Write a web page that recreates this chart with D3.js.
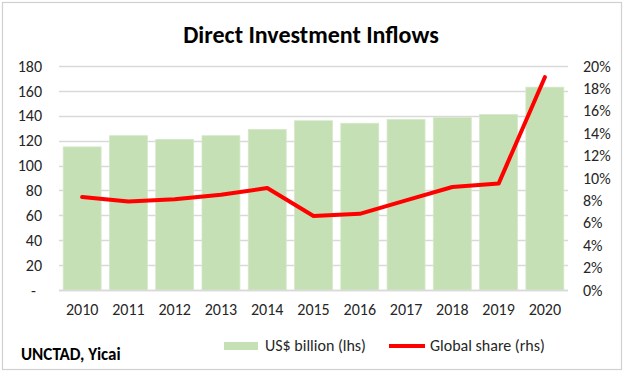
<!DOCTYPE html>
<html>
<head>
<meta charset="utf-8">
<script src="https://cdn.jsdelivr.net/npm/d3@7"></script>
<style>
  body { margin: 0; background: #fff; }
  svg { font-family: Carlito, Lato, "Open Sans", sans-serif; }
</style>
</head>
<body>
<svg id="chart" width="624" height="373"></svg>
<script>
// data
const years = ['2010', '2011', '2012', '2013', '2014', '2015', '2016', '2017', '2018', '2019', '2020'];
const inflows = [115, 124, 121, 124, 129, 136, 134, 137, 138.5, 141, 163];
const globalShare = [8.3, 7.9, 8.1, 8.5, 9.1, 6.6, 6.8, 8.0, 9.2, 9.5, 19.0];
const leftTicks = [0, 20, 40, 60, 80, 100, 120, 140, 160, 180];
const rightTicks = [0, 2, 4, 6, 8, 10, 12, 14, 16, 18, 20];

const W = 624, H = 373;
const margin = { top: 66, right: 56, bottom: 83, left: 59 };
const labelColor = '#262626';
const fs = 16;

const svg = d3.select('#chart');

// outer frame
svg.append('rect')
    .attr('x', 2.5).attr('y', 2.5)
    .attr('width', W - 5).attr('height', H - 6)
    .attr('fill', '#fff')
    .attr('stroke', '#d0d0d0')
    .attr('stroke-width', 1.2);

const x = d3.scaleBand()
    .domain(years)
    .range([margin.left, W - margin.right])
    .paddingInner(0.18)
    .paddingOuter(0.09);

const yL = d3.scaleLinear().domain([0, 180]).range([H - margin.bottom, margin.top]);
const yR = d3.scaleLinear().domain([0, 20]).range([H - margin.bottom, margin.top]);

// gridlines
svg.append('g')
    .selectAll('line')
    .data(leftTicks)
    .enter()
    .append('line')
    .attr('x1', margin.left)
    .attr('x2', W - margin.right)
    .attr('y1', d => Math.round(yL(d)) + 0.5)
    .attr('y2', d => Math.round(yL(d)) + 0.5)
    .attr('stroke', '#d9d9d9')
    .attr('stroke-width', 1.3);

// bars
svg.append('g')
    .selectAll('rect')
    .data(inflows)
    .enter()
    .append('rect')
    .attr('x', (d, i) => x(years[i]))
    .attr('width', x.bandwidth())
    .attr('y', d => yL(d))
    .attr('height', d => yL(0) - yL(d))
    .attr('fill', '#c5e0b4')
    .attr('stroke', '#d5e8c9')
    .attr('stroke-width', 0.8);

// baseline
svg.append('line')
    .attr('x1', margin.left).attr('x2', W - margin.right)
    .attr('y1', yL(0) + 0.5).attr('y2', yL(0) + 0.5)
    .attr('stroke', '#d9d9d9')
    .attr('stroke-width', 1.5);

// line
const line = d3.line()
    .x((d, i) => x(years[i]) + x.bandwidth() / 2)
    .y(d => yR(d));

svg.append('path')
    .datum(globalShare)
    .attr('d', line)
    .attr('fill', 'none')
    .attr('stroke', '#ff0000')
    .attr('stroke-width', 4)
    .attr('stroke-linejoin', 'round')
    .attr('stroke-linecap', 'round');

// left axis
const leftAxis = d3.axisLeft(yL)
    .tickValues(leftTicks)
    .tickSize(0)
    .tickPadding(0)
    .tickFormat(d => d === 0 ? '-' : d);
const gl = svg.append('g')
    .attr('transform', `translate(42,0)`)
    .call(leftAxis);
gl.select('.domain').remove();
gl.selectAll('text')
    .attr('font-size', fs)
    .attr('fill', labelColor)
    .attr('font-family', 'Carlito, Lato, sans-serif')
    .attr('dx', d => d === 0 ? -6 : 0);

// right axis
const rightAxis = d3.axisRight(yR)
    .tickValues(rightTicks)
    .tickSize(0)
    .tickPadding(0)
    .tickFormat(d => d + '%');
const gr = svg.append('g')
    .attr('transform', `translate(583,0)`)
    .call(rightAxis);
gr.select('.domain').remove();
gr.selectAll('text')
    .attr('font-size', fs)
    .attr('fill', labelColor)
    .attr('font-family', 'Carlito, Lato, sans-serif');

// x axis
const xAxis = d3.axisBottom(x).tickSize(0).tickPadding(0);
const gx = svg.append('g')
    .attr('transform', `translate(0,${yL(0) + 14})`)
    .call(xAxis);
gx.select('.domain').remove();
gx.selectAll('text')
    .attr('font-size', fs)
    .attr('fill', labelColor)
    .attr('font-family', 'Carlito, Lato, sans-serif');

// title
svg.append('text')
    .attr('x', 311)
    .attr('y', 43)
    .attr('text-anchor', 'middle')
    .attr('font-size', 24)
    .attr('font-weight', 'bold')
    .attr('fill', '#000')
    .text('Direct Investment Inflows');

// source
svg.append('text')
    .attr('x', 21)
    .attr('y', 360)
    .attr('font-size', 17)
    .attr('font-weight', 'bold')
    .attr('fill', '#000')
    .text('UNCTAD, Yicai');

// legend
const legend = svg.append('g');
legend.append('rect')
    .attr('x', 224).attr('y', 342)
    .attr('width', 34).attr('height', 8)
    .attr('fill', '#c5e0b4');
legend.append('text')
    .attr('x', 265).attr('y', 351)
    .attr('font-size', fs)
    .attr('fill', labelColor)
    .text('US$ billion (lhs)');
legend.append('line')
    .attr('x1', 389).attr('x2', 425)
    .attr('y1', 346).attr('y2', 346)
    .attr('stroke', '#ff0000')
    .attr('stroke-width', 4);
legend.append('text')
    .attr('x', 430).attr('y', 351)
    .attr('font-size', fs)
    .attr('fill', labelColor)
    .text('Global share (rhs)');
</script>
</body>
</html>
